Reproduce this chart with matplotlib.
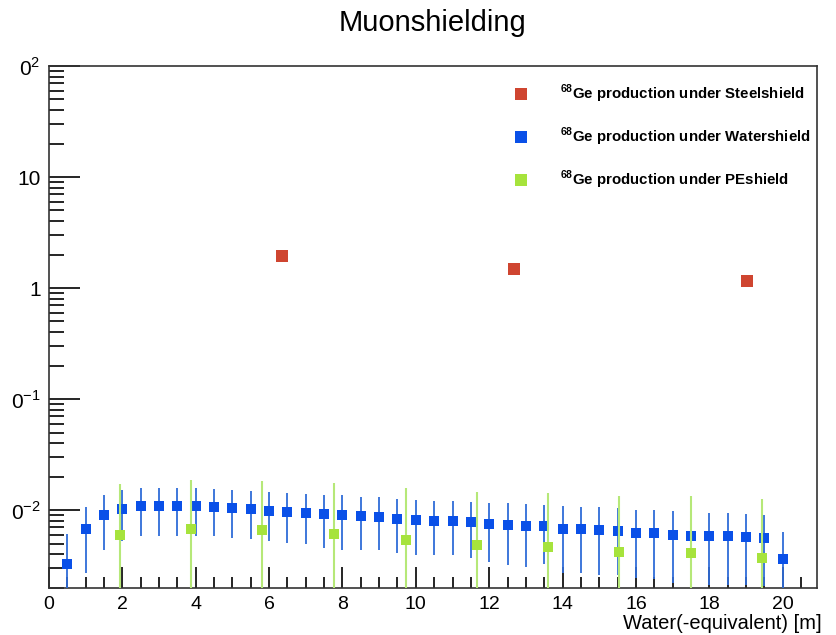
import matplotlib
matplotlib.use("Agg")
import matplotlib.pyplot as plt
from matplotlib.lines import Line2D
from matplotlib.ticker import FixedLocator, FixedFormatter, LogLocator, MultipleLocator, NullFormatter

plt.rcParams['font.family'] = ['Liberation Sans', 'DejaVu Sans']
plt.rcParams['mathtext.fontset'] = 'custom'
plt.rcParams['mathtext.rm'] = 'Liberation Sans'
plt.rcParams['mathtext.bf'] = 'Liberation Sans:bold'

# 68Ge production vs shield thickness (water equivalent)
steel_x = [6.35, 12.67, 19.03]
steel_y = [1.94, 1.48, 1.16]

water_x = [0.5 * (i + 1) for i in range(40)]
water_y = [0.00324, 0.0067, 0.00896, 0.0102, 0.0109, 0.0109, 0.0109, 0.0109,
           0.0106, 0.0104, 0.0102, 0.00986, 0.0097, 0.0095, 0.0092, 0.0090,
           0.0088, 0.0087, 0.0084, 0.0081, 0.0080, 0.0080, 0.0078, 0.0075,
           0.0074, 0.0072, 0.0072, 0.0068, 0.0067, 0.0066, 0.0065, 0.00625,
           0.0062, 0.0060, 0.0059, 0.0058, 0.0058, 0.0057, 0.00556, 0.0036]
water_err = [0.0028, 0.0040, 0.0046, 0.0049, 0.0050, 0.0050, 0.0050, 0.0050,
             0.0048, 0.0048, 0.0047, 0.0046, 0.0046, 0.0046, 0.0046, 0.0046,
             0.0044, 0.0043, 0.0043, 0.0042, 0.0041, 0.0041, 0.0041, 0.0041,
             0.0042, 0.0041, 0.0039, 0.0041, 0.0040, 0.0040, 0.0039, 0.0038,
             0.0038, 0.0038, 0.0038, 0.0037, 0.0037, 0.0036, 0.0035, 0.0028]

pe_x = [1.93, 3.88, 5.82, 7.77, 9.72, 11.66, 13.61, 15.55, 17.5, 19.45]
pe_y = [0.00595, 0.0067, 0.00656, 0.0061, 0.0054, 0.00488, 0.00467, 0.00419, 0.00413, 0.0037]
pe_err = [0.0114, 0.0119, 0.0116, 0.0113, 0.0105, 0.0097, 0.0096, 0.0093, 0.0093, 0.0088]

labels = [r'$^{\mathbf{68}}$Ge production under Steelshield',
          r'$^{\mathbf{68}}$Ge production under Watershield',
          r'$^{\mathbf{68}}$Ge production under PEshield']
colors = ['#cf4530', '#0a50e8', '#a6e33c']
ytick_vals = [1e-2, 1e-1, 1, 10, 100]
ytick_text = [r'$0^{-2}$', r'$0^{-1}$', '1', '10', r'$0^{2}$']

fig = plt.figure(figsize=(8.36, 6.35), dpi=100, facecolor='white')
ax = fig.add_axes([0.0586, 0.0745, 0.9184, 0.8215])

ax.errorbar(water_x, water_y, yerr=water_err, fmt='s', color=colors[1], ecolor='#2f6cd8',
            elinewidth=1.3, capsize=2.5, capthick=1.3, markersize=7.5, markeredgewidth=0,
            zorder=3)
ax.errorbar(pe_x, pe_y, yerr=pe_err, fmt='s', color=colors[2], ecolor='#b6e878',
            elinewidth=1.5, capsize=2.5, capthick=1.3, markersize=7.5, markeredgewidth=0,
            zorder=4)
ax.plot(steel_x, steel_y, 's', color=colors[0], markersize=8, markeredgewidth=0, zorder=5)

ax.set_yscale('log')
ax.set_xlim(0, 20.93)
ax.set_ylim(0.002, 100)

ax.xaxis.set_major_locator(MultipleLocator(2))
ax.xaxis.set_minor_locator(MultipleLocator(0.5))
ax.yaxis.set_major_locator(FixedLocator(ytick_vals))
ax.yaxis.set_major_formatter(FixedFormatter(ytick_text))
ax.yaxis.set_minor_locator(LogLocator(base=10, subs=range(2, 10)))
ax.yaxis.set_minor_formatter(NullFormatter())

ax.tick_params(axis='x', which='major', direction='in', length=15, width=1.2, labelsize=14, pad=6,
               top=False)
ax.tick_params(axis='x', which='minor', direction='in', length=8, width=1.2, top=False)
ax.tick_params(axis='y', which='major', direction='in', length=22, width=1.2, labelsize=15, pad=6,
               right=False)
ax.tick_params(axis='y', which='minor', direction='in', length=11, width=1.2, right=False)
for sp in ax.spines.values():
    sp.set_linewidth(1.2)
    sp.set_color('#333333')

ax.set_title('Muonshielding', fontsize=21, pad=25)
ax.set_xlabel('Water(-equivalent) [m]', fontsize=14.5, loc='right', labelpad=0)
ax.xaxis.set_label_coords(1.006, -0.05)

# legend: plain squares, no frame
proxies = [Line2D([], [], ls='none', marker='s', color=c, markersize=8, markeredgewidth=0)
           for c in colors]
leg = ax.legend(proxies, labels, loc='upper left', bbox_to_anchor=(0.588, 0.994), frameon=False,
                fontsize=10.8, labelspacing=1.38, handletextpad=2.1, handlelength=1.0)
for t in leg.get_texts():
    t.set_fontweight('bold')

fig.savefig('out.png', dpi=100)
